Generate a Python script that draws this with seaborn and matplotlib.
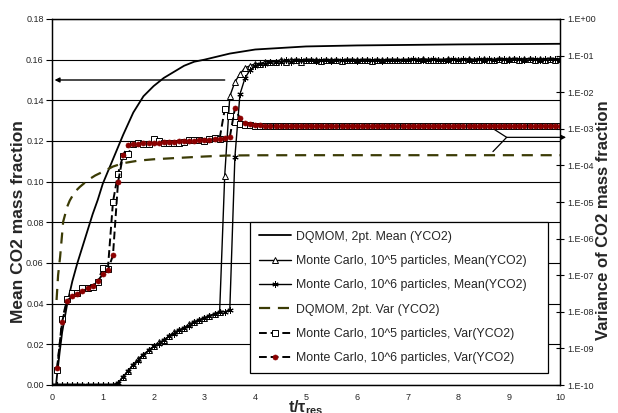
import numpy as np
import matplotlib
matplotlib.use('Agg')
import matplotlib.pyplot as plt
import seaborn as sns
from matplotlib.ticker import FixedLocator, FuncFormatter, NullLocator

# ---------------- data ----------------
t_mc = np.round(np.arange(0, 10.01, 0.1), 1)      # MC output times (0.0 .. 10.0)
t_var = t_mc[1:]                                   # variance series start at 0.1

t_dq_mean = [0.08, 0.1, 0.15, 0.2, 0.3, 0.4, 0.5, 0.6, 0.7, 0.8, 0.9, 1.0, 1.2, 1.4,
             1.6, 1.8, 2.0, 2.2, 2.4, 2.6, 2.8, 3.0, 3.5, 4.0, 5.0, 6.0, 8.0, 10.0]
mean_dq = [0.0, 0.005, 0.016, 0.026, 0.040, 0.051, 0.060, 0.068, 0.076, 0.084, 0.091,
           0.099, 0.111, 0.123, 0.134, 0.142, 0.147, 0.151, 0.154, 0.157, 0.159, 0.160,
           0.163, 0.165, 0.1665, 0.167, 0.1675, 0.1678]

mean_mc5 = [0, 0, 0, 0, 0, 0, 0, 0, 0, 0, 0, 0, 0,
            0.001, 0.004, 0.007, 0.010, 0.013, 0.015, 0.017, 0.019, 0.021, 0.022, 0.024,
            0.026, 0.027, 0.028, 0.030, 0.031, 0.032, 0.033, 0.034, 0.035, 0.036,
            0.103, 0.142, 0.149, 0.153, 0.156, 0.157, 0.158, 0.158, 0.159, 0.159, 0.159,
            0.160, 0.159, 0.160, 0.160, 0.159, 0.160,
            0.1600, 0.1600, 0.1595, 0.1600, 0.1600, 0.1600, 0.1595, 0.1600, 0.1600, 0.1600,
            0.1600, 0.1600, 0.1595, 0.1600, 0.1600, 0.1600, 0.1600, 0.1600, 0.1600, 0.1600,
            0.1600, 0.1600, 0.1605, 0.1600, 0.1600, 0.1600, 0.1600, 0.1605, 0.1600, 0.1600,
            0.1600, 0.1605, 0.1600, 0.1600, 0.1605, 0.1600, 0.1600, 0.1605, 0.1600, 0.1605,
            0.1605, 0.1600, 0.1605, 0.1605, 0.1600, 0.1605, 0.1600, 0.1605, 0.1600, 0.1605]

mean_mc6 = [0, 0, 0, 0, 0, 0, 0, 0, 0, 0, 0, 0, 0,
            0.001, 0.004, 0.007, 0.010, 0.012, 0.015, 0.017, 0.019, 0.020, 0.022, 0.024,
            0.025, 0.027, 0.028, 0.029, 0.031, 0.032, 0.033, 0.034, 0.035, 0.036, 0.036,
            0.037,
            0.112, 0.143, 0.151, 0.155, 0.157, 0.158, 0.158, 0.159, 0.159, 0.159, 0.160,
            0.159, 0.160, 0.160, 0.160,
            0.1600, 0.1595, 0.1600, 0.1600, 0.1595, 0.1600, 0.1600, 0.1600, 0.1600, 0.1595,
            0.1600, 0.1600, 0.1600, 0.1600, 0.1595, 0.1600, 0.1600, 0.1600, 0.1600, 0.1600,
            0.1605, 0.1600, 0.1600, 0.1600, 0.1605, 0.1600, 0.1600, 0.1600, 0.1605, 0.1600,
            0.1605, 0.1600, 0.1600, 0.1605, 0.1600, 0.1605, 0.1600, 0.1605, 0.1605, 0.1600,
            0.1605, 0.1605, 0.1600, 0.1605, 0.1605, 0.1600, 0.1605, 0.1605, 0.1605, 0.1600]

t_dq_var = [0.09, 0.12, 0.16, 0.22, 0.3, 0.35, 0.45, 0.55, 0.71, 0.85, 1.01, 1.2, 1.4,
            1.7, 2.0, 2.4, 3.0, 3.44, 4.0, 5.0, 10.0]
var_dq = [2.1e-8, 1.0e-7, 3.2e-7, 2.9e-6, 7.5e-6, 1.1e-5, 1.9e-5, 2.6e-5, 4.0e-5, 5.3e-5,
          6.8e-5, 9.3e-5, 1.15e-4, 1.35e-4, 1.47e-4, 1.58e-4, 1.75e-4, 1.86e-4, 1.89e-4,
          1.9e-4, 1.9e-4]

var_mc5 = [2.5e-10, 6.3e-9, 2.2e-8, 3.2e-8, 3.3e-8, 4.4e-8, 4.4e-8, 4.7e-8, 6.6e-8, 1.55e-7,
           1.5e-7, 1.0e-5, 6.0e-5, 1.86e-4, 2.1e-4, 3.8e-4, 4.0e-4, 3.8e-4, 3.9e-4, 5.2e-4,
           4.6e-4, 4.2e-4, 4.0e-4, 4.0e-4, 4.1e-4, 4.4e-4, 4.9e-4, 5.0e-4, 4.8e-4, 4.7e-4,
           5.2e-4, 5.5e-4, 5.4e-4, 3.4e-3, 2.2e-3, 1.55e-3, 1.35e-3, 1.28e-3, 1.25e-3, 1.22e-3,
           1.20e-3, 1.22e-3, 1.18e-3, 1.20e-3, 1.23e-3, 1.20e-3, 1.19e-3, 1.22e-3, 1.20e-3, 1.18e-3,
           1.21e-3, 1.23e-3, 1.20e-3, 1.18e-3, 1.20e-3, 1.22e-3, 1.20e-3, 1.17e-3, 1.20e-3, 1.22e-3,
           1.20e-3, 1.19e-3, 1.21e-3, 1.23e-3, 1.20e-3, 1.18e-3, 1.20e-3, 1.22e-3, 1.20e-3, 1.19e-3,
           1.21e-3, 1.20e-3, 1.22e-3, 1.19e-3, 1.20e-3, 1.23e-3, 1.20e-3, 1.18e-3, 1.21e-3, 1.20e-3,
           1.22e-3, 1.20e-3, 1.19e-3, 1.21e-3, 1.20e-3, 1.22e-3, 1.20e-3, 1.18e-3, 1.20e-3, 1.21e-3,
           1.20e-3, 1.22e-3, 1.19e-3, 1.20e-3, 1.21e-3, 1.20e-3, 1.22e-3, 1.20e-3, 1.19e-3, 1.20e-3]

var_mc6 = [2.9e-10, 5.4e-9, 2.0e-8, 2.7e-8, 3.1e-8, 3.6e-8, 4.6e-8, 5.2e-8, 6.9e-8, 1.07e-7,
           1.38e-7, 3.5e-7, 3.5e-5, 1.9e-4, 3.5e-4, 3.8e-4, 3.9e-4, 4.0e-4, 4.1e-4, 4.2e-4,
           4.2e-4, 4.3e-4, 4.3e-4, 4.4e-4, 4.5e-4, 4.5e-4, 4.6e-4, 4.7e-4, 4.8e-4, 4.9e-4,
           5.0e-4, 5.2e-4, 5.3e-4, 5.5e-4, 5.9e-4, 3.6e-3, 1.95e-3, 1.48e-3, 1.32e-3, 1.26e-3,
           1.24e-3, 1.23e-3, 1.23e-3, 1.23e-3, 1.23e-3, 1.22e-3, 1.23e-3, 1.23e-3, 1.23e-3, 1.23e-3,
           1.23e-3, 1.23e-3, 1.22e-3, 1.23e-3, 1.23e-3, 1.23e-3, 1.23e-3, 1.23e-3, 1.22e-3, 1.23e-3,
           1.23e-3, 1.23e-3, 1.23e-3, 1.23e-3, 1.23e-3, 1.22e-3, 1.23e-3, 1.23e-3, 1.23e-3, 1.23e-3,
           1.23e-3, 1.23e-3, 1.23e-3, 1.22e-3, 1.23e-3, 1.23e-3, 1.23e-3, 1.23e-3, 1.23e-3, 1.23e-3,
           1.22e-3, 1.23e-3, 1.23e-3, 1.23e-3, 1.23e-3, 1.23e-3, 1.23e-3, 1.22e-3, 1.23e-3, 1.23e-3,
           1.23e-3, 1.23e-3, 1.23e-3, 1.23e-3, 1.22e-3, 1.23e-3, 1.23e-3, 1.23e-3, 1.23e-3, 1.23e-3]

labels = ["DQMOM, 2pt. Mean (YCO2)",
          "Monte Carlo, 10^5 particles, Mean(YCO2)",
          "Monte Carlo, 10^6 particles, Mean(YCO2)",
          "DQMOM, 2pt. Var (YCO2)",
          "Monte Carlo, 10^5 particles, Var(YCO2)",
          "Monte Carlo, 10^6 particles, Var(YCO2)"]

x_ticks = [0, 1, 2, 3, 4, 5, 6, 7, 8, 9, 10]
y_ticks = [0.00, 0.02, 0.04, 0.06, 0.08, 0.10, 0.12, 0.14, 0.16, 0.18]
var_ticks = [1e-10, 1e-9, 1e-8, 1e-7, 1e-6, 1e-5, 1e-4, 1e-3, 1e-2, 1e-1, 1e0]

# ---------------- style ----------------
sns.set_style('white')
plt.rcParams['font.family'] = ['Liberation Sans', 'DejaVu Sans']
plt.rcParams['mathtext.fontset'] = 'custom'
plt.rcParams['mathtext.rm'] = 'Liberation Sans'
plt.rcParams['mathtext.bf'] = 'Liberation Sans:bold'
plt.rcParams['mathtext.it'] = 'Liberation Sans:italic'

fig = plt.figure(figsize=(6.18, 4.13), dpi=100)
W, H = 618, 413
ax = fig.add_axes([52 / W, 1 - 385 / H, (560 - 52) / W, (385 - 19) / H])
ax2 = ax.twinx()

olive = '#3b3b05'
darkred = '#8b0000'

sns.lineplot(x=t_dq_mean, y=mean_dq, ax=ax, color='k', lw=1.3, label=labels[0],
             legend=False, estimator=None, sort=False)
sns.lineplot(x=t_mc, y=mean_mc5, ax=ax, color='k', lw=1.0, marker='^', markersize=4,
             markerfacecolor='white', markeredgecolor='k', markeredgewidth=0.7,
             label=labels[1], legend=False, estimator=None, sort=False)
sns.lineplot(x=t_mc, y=mean_mc6, ax=ax, color='k', lw=1.0, marker=(6, 2, 0), markersize=4.5,
             markeredgecolor='k', markeredgewidth=0.7,
             label=labels[2], legend=False, estimator=None, sort=False)

sns.lineplot(x=t_dq_var, y=var_dq, ax=ax2, color=olive, lw=1.6, dashes=False,
             label=labels[3], legend=False, estimator=None, sort=False)
ax2.lines[-1].set_dashes((5, 3.5))
sns.lineplot(x=t_var, y=var_mc5, ax=ax2, color='k', lw=1.4, marker='s', markersize=4.2,
             markerfacecolor='white', markeredgecolor='k', markeredgewidth=0.7,
             label=labels[4], legend=False, estimator=None, sort=False)
ax2.lines[-1].set_dashes((4, 2))
sns.lineplot(x=t_var, y=var_mc6, ax=ax2, color='k', lw=1.4, marker='o', markersize=3.6,
             markerfacecolor=darkred, markeredgecolor=darkred, markeredgewidth=0.5,
             label=labels[5], legend=False, estimator=None, sort=False)
ax2.lines[-1].set_dashes((4, 2))

# axes
ax.set_xlim(0, 10)
ax.set_ylim(0, 0.18)
ax2.set_yscale('log')
ax2.set_ylim(1e-10, 1)
ax.xaxis.set_major_locator(FixedLocator(x_ticks))
ax.yaxis.set_major_locator(FixedLocator(y_ticks))
ax.yaxis.set_major_formatter(FuncFormatter(lambda v, p: f"{v:.2f}"))
ax2.yaxis.set_major_locator(FixedLocator(var_ticks))
ax2.yaxis.set_minor_locator(NullLocator())
ax2.yaxis.set_major_formatter(FuncFormatter(lambda v, p: "1.E%+03d" % int(round(np.log10(v)))))

ax.grid(axis='y', color='k', lw=0.8)
ax.grid(axis='x', visible=False)
ax2.grid(False)
for a in (ax, ax2):
    for s in a.spines.values():
        s.set_color('k')
        s.set_linewidth(0.9)

ax.tick_params(axis='y', direction='out', length=4, width=0.8, labelsize=6.5, pad=2, color='k')
ax.tick_params(axis='x', direction='inout', length=4, width=0.8, labelsize=6.5, pad=4, color='k')
ax2.tick_params(axis='y', direction='inout', length=6, width=0.8, labelsize=6.5, pad=2, color='k')

ax.set_xlabel('')
ax.set_ylabel('Mean CO2 mass fraction', fontsize=12.5, fontweight='bold')
ax.yaxis.set_label_coords((18.5 - 52) / 508, 1 - (222 - 19) / 366)
ax.yaxis.label.set_va('center')
ax2.set_ylabel('Variance of CO2 mass fraction', fontsize=12, fontweight='bold', rotation=90)
ax2.yaxis.set_label_coords((603 - 52) / 508, 1 - (220 - 19) / 366)
ax2.yaxis.label.set_va('center')
fig.text(306 / W, 1 - 408 / H, r'$\mathbf{t/\tau_{res}}$', fontsize=11.5, ha='center', va='center')

# arrows
ax.annotate('', xy=(0.05, 0.15), xytext=(3.4, 0.15),
            arrowprops=dict(arrowstyle='-|>', color='k', lw=1.0, mutation_scale=7,
                            shrinkA=0, shrinkB=0))
ax.plot([8.60, 8.95, 8.68], [0.1274, 0.1218, 0.1148], color='k', lw=0.9, zorder=5)
ax.annotate('', xy=(10.12, 0.1218), xytext=(8.95, 0.1218), annotation_clip=False,
            arrowprops=dict(arrowstyle='-|>', color='k', lw=0.9, mutation_scale=7,
                            shrinkA=0, shrinkB=0))

# legend
h1, l1 = ax.get_legend_handles_labels()
h2, l2 = ax2.get_legend_handles_labels()
leg = ax2.legend(h1 + h2, l1 + l2, loc='upper left', mode='expand',
                 bbox_to_anchor=(250 / W, 1 - 372 / H, (548 - 250) / W, (372 - 222) / H),
                 bbox_transform=fig.transFigure, fontsize=8.9, frameon=True, fancybox=False,
                 edgecolor='k', framealpha=1, handlelength=2.6, handletextpad=0.45,
                 labelspacing=1.0, borderpad=0.7, borderaxespad=0)
leg.get_frame().set_linewidth(0.9)

fig.savefig('out.png', dpi=100)
